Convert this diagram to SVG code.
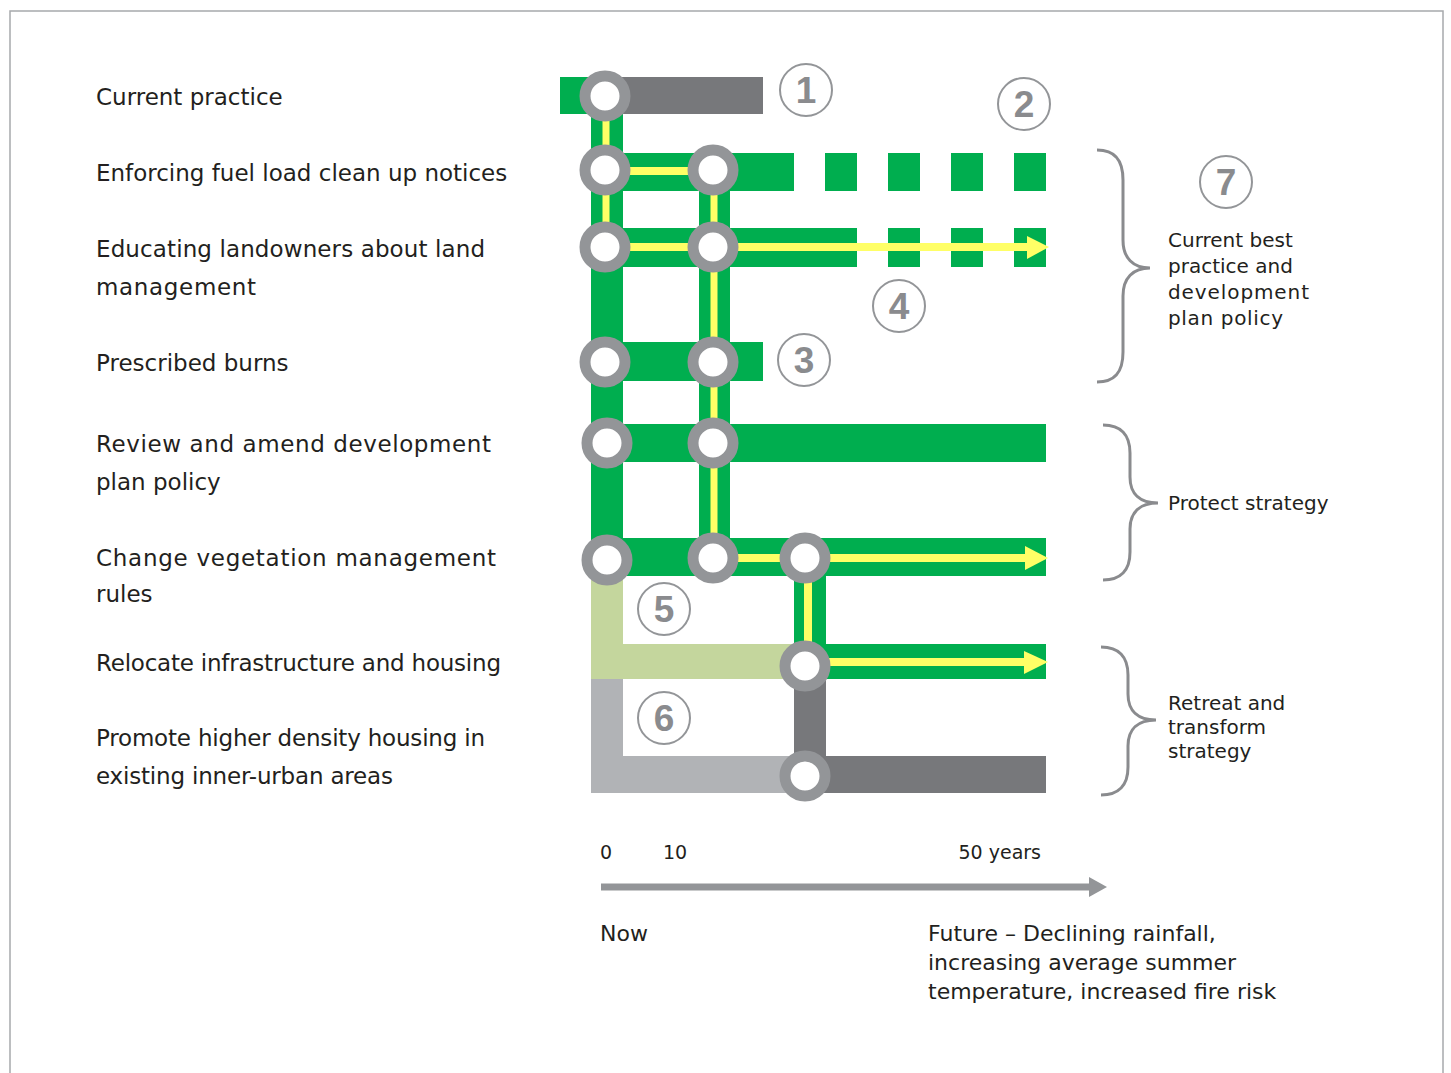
<svg xmlns="http://www.w3.org/2000/svg" width="1451" height="1073" viewBox="0 0 1451 1073">
<style>
.lbl{font-family:"DejaVu Sans","Liberation Sans",sans-serif;font-size:23px;fill:#231f20}
.rl{font-family:"DejaVu Sans","Liberation Sans",sans-serif;font-size:20px;fill:#231f20}
.ax{font-family:"DejaVu Sans","Liberation Sans",sans-serif;font-size:19px;fill:#231f20}
.bt{font-family:"DejaVu Sans","Liberation Sans",sans-serif;font-size:22px;fill:#231f20}
.g{fill:#00ae4f}
.lg{fill:#c4d69d}
.gy{fill:#b1b3b6}
.dg{fill:#77787b}
.y{stroke:#ffff66;fill:none}
.yh{fill:#ffff66}
.st{fill:#fff;stroke:#939598;stroke-width:11}
.badge circle{fill:#fff;stroke:#939598;stroke-width:2}
.badge text{font-family:"Liberation Sans",Arial,sans-serif;font-weight:bold;font-size:37px;fill:#8a8b8e;text-anchor:middle}
.br{fill:none;stroke:#8a8b8e;stroke-width:3}
</style>
<rect x="10" y="11" width="1433" height="1100" fill="#fff" stroke="#a7a9ac" stroke-width="1.5"/>

<g id="labels">
<text class="lbl" x="96" y="105">Current practice</text>
<text class="lbl" x="96" y="181">Enforcing fuel load clean up notices</text>
<text class="lbl" x="96" y="257" textLength="389">Educating landowners about land</text>
<text class="lbl" x="96" y="295" textLength="160">management</text>
<text class="lbl" x="96" y="371">Prescribed burns</text>
<text class="lbl" x="96" y="452" textLength="395">Review and amend development</text>
<text class="lbl" x="96" y="490">plan policy</text>
<text class="lbl" x="96" y="566" textLength="400">Change vegetation management</text>
<text class="lbl" x="96" y="602">rules</text>
<text class="lbl" x="96" y="671" textLength="405">Relocate infrastructure and housing</text>
<text class="lbl" x="96" y="746" textLength="389">Promote higher density housing in</text>
<text class="lbl" x="96" y="784" textLength="297">existing inner-urban areas</text>
</g>

<g id="connectors">
<rect class="lg" x="591" y="560" width="32" height="119"/>
<rect class="lg" x="591" y="644" width="214" height="35"/>
<rect class="gy" x="591" y="679" width="32" height="114"/>
<rect class="gy" x="591" y="756" width="214" height="37"/>
<rect class="dg" x="794" y="666" width="32" height="110"/>
<rect class="dg" x="805" y="756" width="241" height="37"/>
<rect class="g" x="560" y="77" width="46" height="37"/>
<rect class="dg" x="606" y="77" width="157" height="37"/>
<rect class="g" x="591" y="96" width="32" height="480"/>
<rect class="g" x="699" y="170" width="31" height="388"/>
<rect class="g" x="794" y="558" width="32" height="108"/>
<rect class="g" x="605" y="153" width="189" height="38"/>
<rect class="g" x="825" y="153" width="32" height="38"/>
<rect class="g" x="888" y="153" width="32" height="38"/>
<rect class="g" x="951" y="153" width="32" height="38"/>
<rect class="g" x="1014" y="153" width="32" height="38"/>
<rect class="g" x="605" y="228" width="252" height="39"/>
<rect class="g" x="888" y="228" width="32" height="39"/>
<rect class="g" x="951" y="228" width="32" height="39"/>
<rect class="g" x="1014" y="228" width="32" height="39"/>
<rect class="g" x="605" y="342" width="158" height="39"/>
<rect class="g" x="607" y="424" width="439" height="38"/>
<rect class="g" x="607" y="538" width="439" height="38"/>
<rect class="g" x="805" y="644" width="241" height="35"/>
<line class="y" x1="606" y1="96" x2="606" y2="247" stroke-width="7"/>
<line class="y" x1="714" y1="170" x2="714" y2="558" stroke-width="7"/>
<line class="y" x1="808" y1="558" x2="808" y2="666" stroke-width="8"/>
<line class="y" x1="605" y1="171" x2="713" y2="171" stroke-width="8"/>
<line class="y" x1="605" y1="247" x2="1028" y2="247" stroke-width="8"/>
<polygon class="yh" points="1027,236 1049,247 1027,259"/>
<line class="y" x1="713" y1="558" x2="1026" y2="558" stroke-width="8"/>
<polygon class="yh" points="1025,546 1048,558 1025,570"/>
<line class="y" x1="805" y1="662" x2="1025" y2="662" stroke-width="8"/>
<polygon class="yh" points="1024,651 1048,662 1024,674"/>
</g>

<g id="stations">
<circle id="s1a" class="st" cx="605" cy="96" r="20"/>
<circle id="s2a" class="st" cx="605" cy="170" r="20"/>
<circle id="s2b" class="st" cx="713" cy="170" r="20"/>
<circle id="s3a" class="st" cx="605" cy="247" r="20"/>
<circle id="s3b" class="st" cx="713" cy="247" r="20"/>
<circle id="s4a" class="st" cx="605" cy="362" r="20"/>
<circle id="s4b" class="st" cx="713" cy="362" r="20"/>
<circle id="s5a" class="st" cx="607" cy="443" r="20"/>
<circle id="s5b" class="st" cx="713" cy="443" r="20"/>
<circle id="s6a" class="st" cx="607" cy="560" r="20"/>
<circle id="s6b" class="st" cx="713" cy="558" r="20"/>
<circle id="s6c" class="st" cx="805" cy="558" r="20"/>
<circle id="s7c" class="st" cx="805" cy="666" r="20"/>
<circle id="s8c" class="st" cx="805" cy="776" r="20"/>
</g>

<g id="badge1" class="badge"><circle cx="806" cy="90" r="26"/><text x="806" y="103">1</text></g>
<g id="badge2" class="badge"><circle cx="1024" cy="104" r="26"/><text x="1024" y="117">2</text></g>
<g id="badge3" class="badge"><circle cx="804" cy="360" r="26"/><text x="804" y="373">3</text></g>
<g id="badge4" class="badge"><circle cx="899" cy="306" r="26"/><text x="899" y="319">4</text></g>
<g id="badge5" class="badge"><circle cx="664" cy="609" r="26"/><text x="664" y="622">5</text></g>
<g id="badge6" class="badge"><circle cx="664" cy="718" r="26"/><text x="664" y="731">6</text></g>
<g id="badge7" class="badge"><circle cx="1226" cy="182" r="26"/><text x="1226" y="195">7</text></g>

<g id="bracket1">
<path class="br" d="M1097,150 C1115,150 1123,160 1123,180 L1123,240 C1123,258 1133,268 1150,268 C1133,268 1123,278 1123,296 L1123,352 C1123,372 1115,382 1097,382"/>
<text class="rl" x="1168" y="247">Current best</text>
<text class="rl" x="1168" y="273">practice and</text>
<text class="rl" x="1168" y="299" textLength="141">development</text>
<text class="rl" x="1168" y="325" textLength="115">plan policy</text>
</g>
<g id="bracket2">
<path class="br" d="M1103,425 C1121,425 1130,435 1130,453 L1130,477 C1130,494 1140,503 1158,503 C1140,503 1130,512 1130,529 L1130,552 C1130,570 1121,580 1103,580"/>
<text class="rl" x="1168" y="510">Protect strategy</text>
</g>
<g id="bracket3">
<path class="br" d="M1101,647 C1119,647 1128,657 1128,675 L1128,694 C1128,711 1138,720 1156,720 C1138,720 1128,729 1128,746 L1128,767 C1128,785 1119,795 1101,795"/>
<text class="rl" x="1168" y="710">Retreat and</text>
<text class="rl" x="1168" y="734">transform</text>
<text class="rl" x="1168" y="758">strategy</text>
</g>

<g id="axis">
<text class="ax" x="600" y="859">0</text>
<text class="ax" x="663" y="859">10</text>
<text class="ax" x="1041" y="859" text-anchor="end">50 years</text>
<line x1="601" y1="887" x2="1091" y2="887" stroke="#939598" stroke-width="7"/>
<polygon points="1089,877 1107,887 1089,897" fill="#939598"/>
<text class="bt" x="600" y="941">Now</text>
<text class="bt" x="928" y="941">Future – Declining rainfall,</text>
<text class="bt" x="928" y="970">increasing average summer</text>
<text class="bt" x="928" y="999">temperature, increased fire risk</text>
</g>
</svg>
